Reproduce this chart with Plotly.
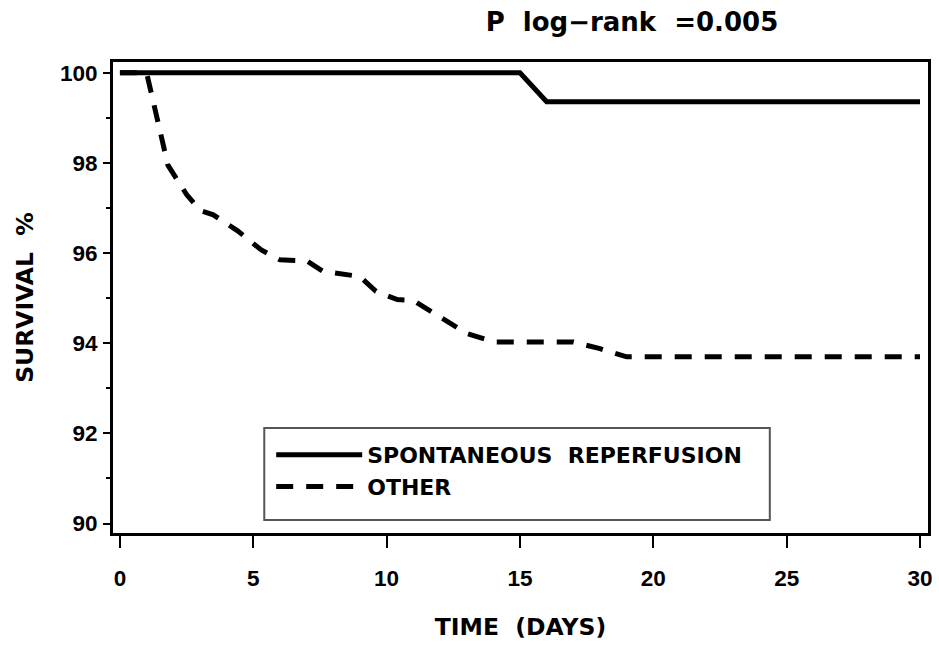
import plotly.graph_objects as go

# ---- data ----
days_spont = [0, 15, 16, 30]
surv_spont = [100, 100, 99.36, 99.36]

days_other = [0, 1, 1.8, 2.5, 3, 3.5, 4.4, 5.3, 6, 7, 7.6, 9, 9.6, 10.4, 11, 12, 13, 14, 17, 18, 19, 30]
surv_other = [100, 100, 97.95, 97.3, 96.95, 96.85, 96.5, 96.07, 95.85, 95.83, 95.6, 95.48, 95.15,
              94.97, 94.95, 94.6, 94.22, 94.03, 94.03, 93.88, 93.7, 93.7]

series_names = ["SPONTANEOUS\u00a0 REPERFUSION", "OTHER"]
x_ticks = [0, 5, 10, 15, 20, 25, 30]
y_ticks = [90, 92, 94, 96, 98, 100]

TICKFONT = dict(family="Liberation Sans", size=22.5, color="black", weight="bold")
LEGFONT = dict(family="DejaVu Sans", size=22, color="black", weight="bold")
AXTFONT = dict(family="DejaVu Sans", size=23.5, color="black", weight="bold")

fig = go.Figure()
fig.add_trace(go.Scatter(x=days_spont, y=surv_spont, mode="lines", name=series_names[0],
                         line=dict(color="black", width=5, dash="solid")))
fig.add_trace(go.Scatter(x=days_other, y=surv_other, mode="lines", name=series_names[1],
                         line=dict(color="black", width=5, dash="17px,13px")))

fig.update_layout(
    width=939, height=647,
    margin=dict(l=113, r=7, t=62, b=114),
    paper_bgcolor="white", plot_bgcolor="white",
    title=dict(text="P\u00a0 log\u2212rank\u00a0 =0.005", x=0.673, y=0.966,
               xanchor="center", yanchor="middle",
               font=dict(family="DejaVu Sans", size=26, color="black", weight="bold")),
    legend=dict(x=0.1941, y=0.2102, xanchor="left", yanchor="top",
                borderwidth=0, bgcolor="rgba(0,0,0,0)",
                font=LEGFONT, itemwidth=86, tracegroupgap=0),
    showlegend=True,
    shapes=[dict(type="rect", xref="paper", yref="paper",
                 x0=0.1856, x1=0.8059, y0=0.0276, y1=0.2229,
                 line=dict(color="#555555", width=2), fillcolor="white", layer="below")],
)

fig.update_xaxes(
    range=[-0.26, 30.3], tickvals=x_ticks, ticktext=[str(v) for v in x_ticks],
    showline=True, mirror=True, linewidth=3, linecolor="black",
    ticks="outside", ticklen=12, tickwidth=2, tickcolor="black",
    showgrid=False, zeroline=False, tickfont=TICKFONT, ticklabelstandoff=11,
    title=dict(text="TIME\u00a0 (DAYS)", font=AXTFONT, standoff=29),
)
fig.update_yaxes(
    range=[89.79, 100.24], tickvals=y_ticks, ticktext=[str(v) for v in y_ticks],
    showline=True, mirror=True, linewidth=3, linecolor="black",
    ticks="outside", ticklen=7, tickwidth=2, tickcolor="black",
    minor=dict(tickvals=[91, 93, 95, 97, 99], ticklen=4, tickwidth=2, tickcolor="black", ticks="outside"),
    showgrid=False, zeroline=False, tickfont=TICKFONT, ticklabelstandoff=1,
    title=dict(text="SURVIVAL\u00a0 %", font=AXTFONT, standoff=20),
)

fig.write_html("out.html")
